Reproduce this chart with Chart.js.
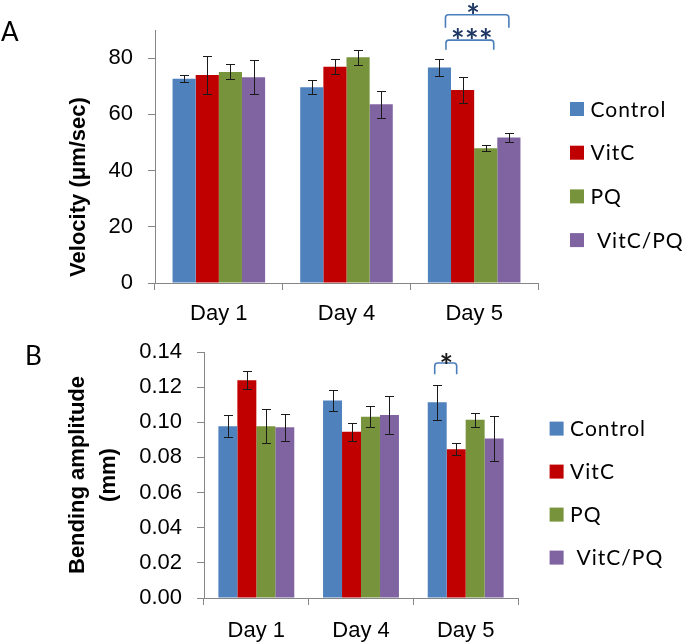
<!DOCTYPE html>
<html>
<head>
<meta charset="utf-8">
<script src="https://cdn.jsdelivr.net/npm/chart.js@4.4.1/dist/chart.umd.min.js"></script>
<style>
  body { margin: 0; background: #fff; }
  #wrap { position: relative; width: 685px; height: 644px; font-family: Lato, sans-serif; }
  canvas { position: absolute; left: 0; }
  .panel { position: absolute; font-size: 26px; line-height: 26px; color: #000; }
</style>
</head>
<body>
<div id="wrap">
  <canvas id="velocityChart" width="685" height="340" style="top:0"></canvas>
  <canvas id="bendingChart" width="685" height="322" style="top:322px"></canvas>
  <div class="panel" style="left:1px;top:18px">A</div>
  <div class="panel" style="left:25px;top:342px">B</div>
</div>
<script>
var days = ['Day 1', 'Day 4', 'Day 5'];
var groups = ['Control', 'VitC', 'PQ', ' VitC/PQ'];

// Panel A - velocity (um/sec), mean and error bar per day
var velControl = [72.7, 69.6, 76.7];
var velVitC = [74.0, 76.9, 68.7];
var velPQ = [75.1, 80.3, 47.9];
var velVitCPQ = [73.2, 63.6, 51.8];
var velControlErr = [1.2, 2.5, 2.9];
var velVitCErr = [6.8, 2.7, 4.5];
var velPQErr = [2.7, 2.7, 1.1];
var velVitCPQErr = [6.0, 4.8, 1.5];
var velTicks = [0, 20, 40, 60, 80];

// Panel B - bending amplitude (mm)
var bendControl = [0.0978, 0.1124, 0.1114];
var bendVitC = [0.1239, 0.0946, 0.0847];
var bendPQ = [0.0978, 0.1031, 0.1014];
var bendVitCPQ = [0.0972, 0.1042, 0.0908];
var bendControlErr = [0.0064, 0.0057, 0.0101];
var bendVitCErr = [0.0052, 0.0051, 0.0035];
var bendPQErr = [0.0098, 0.0059, 0.0040];
var bendVitCPQErr = [0.0078, 0.0110, 0.0130];

var groupColors = ['#4F81BD', '#C00000', '#77933C', '#8064A2'];

function makeDatasets(values, errors) {
    return groups.map(function (g, i) {
        return {
            label: g,
            data: values[i],
            errors: errors[i],
            backgroundColor: groupColors[i],
            borderWidth: 0,
            categoryPercentage: 0.725,
            barPercentage: 1
        };
    });
}

// error bars drawn on top of each bar
var errorBars = {
    id: 'errorBars',
    afterDatasetsDraw: function (chart) {
        var ctx = chart.ctx, y = chart.scales.y;
        ctx.save();
        ctx.strokeStyle = '#1a1a1a';
        ctx.lineWidth = 1;
        chart.data.datasets.forEach(function (ds, i) {
            chart.getDatasetMeta(i).data.forEach(function (bar, j) {
                var v = ds.data[j], e = ds.errors[j];
                var top = Math.round(y.getPixelForValue(v + e)) + 0.5;
                var bot = Math.round(y.getPixelForValue(v - e)) + 0.5;
                var x = Math.round(bar.x) + 0.5;
                ctx.beginPath();
                ctx.moveTo(x, top); ctx.lineTo(x, bot);
                ctx.moveTo(x - 4.5, top); ctx.lineTo(x + 4.5, top);
                ctx.moveTo(x - 4.5, bot); ctx.lineTo(x + 4.5, bot);
                ctx.stroke();
            });
        });
        ctx.restore();
    }
};

// legend at the right, square + label
var sideLegend = {
    id: 'sideLegend',
    afterDraw: function (chart, args, opts) {
        var ctx = chart.ctx, area = chart.chartArea;
        ctx.save();
        ctx.font = '21px Lato';
        ctx.letterSpacing = '1px';
        ctx.textBaseline = 'middle';
        chart.data.datasets.forEach(function (ds, i) {
            var x = area.right + opts.dx;
            var yc = area.top + opts.dy + i * opts.step;
            ctx.fillStyle = ds.backgroundColor;
            ctx.fillRect(x, yc - 7, 14, 14);
            ctx.fillStyle = '#000';
            ctx.fillText(ds.label, x + 20.5, yc + 1);
        });
        ctx.restore();
    }
};

// significance brackets with stars
var sigBrackets = {
    id: 'sigBrackets',
    afterDraw: function (chart, args, opts) {
        var ctx = chart.ctx, y = chart.scales.y;
        ctx.save();
        opts.items.forEach(function (b) {
            var x1 = chart.getDatasetMeta(b.from).data[b.day].x + b.dxFrom;
            var x2 = chart.getDatasetMeta(b.to).data[b.day].x + b.dxTo;
            var yT = y.getPixelForValue(b.top), yL = y.getPixelForValue(b.leg);
            ctx.strokeStyle = '#4A7EBB';
            ctx.lineWidth = 1.6;
            ctx.beginPath();
            ctx.moveTo(x1, yL);
            ctx.arcTo(x1, yT, x2, yT, 3);
            ctx.arcTo(x2, yT, x2, yL, 3);
            ctx.lineTo(x2, yL);
            ctx.stroke();

            ctx.font = 'bold 32px Lato';
            ctx.fillStyle = b.color;
            ctx.textAlign = 'center';
            ctx.textBaseline = 'alphabetic';
            var m = ctx.measureText('*');
            var shift = (m.actualBoundingBoxDescent - m.actualBoundingBoxAscent) / 2;
            var yc = y.getPixelForValue(b.starY);
            var mid = (x1 + x2) / 2 + b.starDx;
            var n = b.text.length;
            for (var k = 0; k < n; k++) {
                ctx.fillText('*', mid + (k - (n - 1) / 2) * 14, yc - shift);
            }
        });
        ctx.restore();
    }
};

var axisGray = '#868686';

// Panel A chart
var vc = document.getElementById('velocityChart').getContext('2d');
var velocityChart = new Chart(vc, {
    type: 'bar',
    data: {
        labels: days,
        datasets: makeDatasets([velControl, velVitC, velPQ, velVitCPQ],
            [velControlErr, velVitCErr, velPQErr, velVitCPQErr])
    },
    options: {
        responsive: false,
        animation: false,
        layout: { padding: { top: 30, right: 147, bottom: 0, left: 0 } },
        plugins: {
            legend: { display: false },
            tooltip: { enabled: false },
            sideLegend: { dx: 32, dy: 79, step: 43.7 },
            sigBrackets: {
                items: [
                    { day: 2, from: 0, to: 3, dxFrom: 6, dxTo: 0, top: 95.4, leg: 90.8, text: '*', starY: 97.7, starDx: -4, color: '#1F3864' },
                    { day: 2, from: 0, to: 2, dxFrom: 6.5, dxTo: 8, top: 86.4, leg: 83, text: '***', starY: 89, starDx: 2, color: '#1F3864' }
                ]
            }
        },
        scales: {
            x: {
                ticks: { padding: 11, color: '#000', font: { size: 22 } },
                afterFit: function (s) { s.height = 57; },
                grid: { drawOnChartArea: false, color: axisGray, tickLength: 7, offset: true },
                border: { color: axisGray }
            },
            y: {
                min: 0,
                max: 90,
                ticks: { stepSize: 20, padding: 15, color: '#000', font: { size: 22 } },
                afterBuildTicks: function (s) {
                    s.ticks = velTicks.map(function (v) { return { value: v }; });
                },
                afterFit: function (s) { s.width = 155; },
                grid: { drawOnChartArea: false, color: axisGray, tickLength: 7 },
                border: { color: axisGray },
                title: {
                    display: true,
                    text: ' Velocity (\u03bcm/sec)',
                    align: 'start',
                    color: '#000',
                    font: { size: 22, weight: 'bold', lineHeight: 1.4 },
                    padding: { top: 63.6, bottom: 0 }
                }
            }
        }
    },
    plugins: [errorBars, sideLegend, sigBrackets]
});

// Panel B chart
var bc = document.getElementById('bendingChart').getContext('2d');
var bendingChart = new Chart(bc, {
    type: 'bar',
    data: {
        labels: days,
        datasets: makeDatasets([bendControl, bendVitC, bendPQ, bendVitCPQ],
            [bendControlErr, bendVitCErr, bendPQErr, bendVitCPQErr])
    },
    options: {
        responsive: false,
        animation: false,
        layout: { padding: { top: 30, right: 167, bottom: 0, left: 0 } },
        plugins: {
            legend: { display: false },
            tooltip: { enabled: false },
            sideLegend: { dx: 31.6, dy: 76.6, step: 43 },
            sigBrackets: {
                items: [
                    { day: 2, from: 0, to: 1, dxFrom: -2.5, dxTo: 0.5, top: 0.1337, leg: 0.1273, text: '*', starY: 0.1367, starDx: 0.5, color: '#1a1a1a' }
                ]
            }
        },
        scales: {
            x: {
                ticks: { padding: 13, color: '#000', font: { size: 22 } },
                afterFit: function (s) { s.height = 46; },
                grid: { drawOnChartArea: false, color: axisGray, tickLength: 7, offset: true },
                border: { color: axisGray }
            },
            y: {
                min: 0,
                max: 0.14,
                ticks: {
                    stepSize: 0.02, padding: 15, color: '#000', font: { size: 22 },
                    callback: function (v) { return v.toFixed(2); }
                },
                afterFit: function (s) { s.width = 204; },
                grid: { drawOnChartArea: false, color: axisGray, tickLength: 7 },
                border: { color: axisGray },
                title: {
                    display: true,
                    text: ['Bending amplitude', '(mm)'],
                    color: '#000',
                    font: { size: 22, weight: 'bold', lineHeight: 1.4 },
                    padding: { top: 62.6, bottom: 0 }
                }
            }
        }
    },
    plugins: [errorBars, sideLegend, sigBrackets]
});
</script>
</body>
</html>
